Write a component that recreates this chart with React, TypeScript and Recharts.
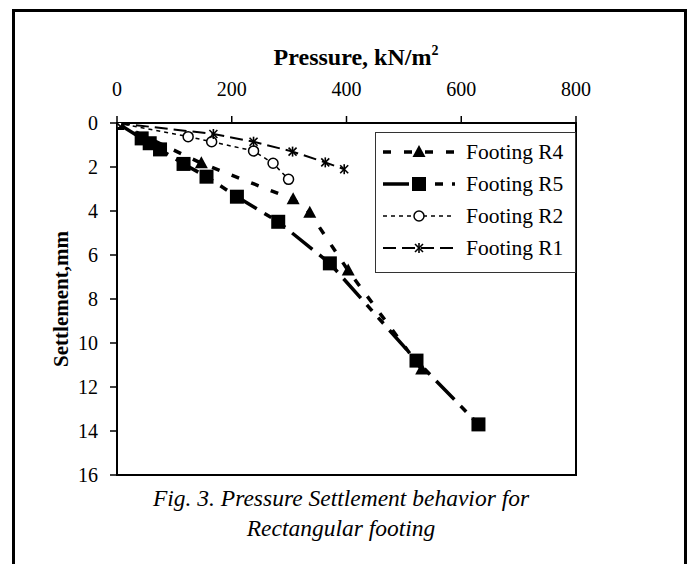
import React from 'react';
import { LineChart, Line, XAxis, YAxis, ReferenceArea, Legend } from 'recharts';

// Pressure (kN/m²) and settlement (mm) readings for each footing
const r4Pressure = [0, 147, 307, 336, 403, 531];
const r4Settlement = [0, 1.83, 3.47, 4.08, 6.71, 11.2];

const r5Pressure = [0, 43, 57, 75, 116, 156, 209, 281, 371, 522, 630];
const r5Settlement = [0, 0.7, 0.92, 1.2, 1.86, 2.44, 3.35, 4.49, 6.38, 10.8, 13.7];

const r2Pressure = [0, 124, 165, 238, 272, 299];
const r2Settlement = [0, 0.62, 0.85, 1.27, 1.83, 2.56];

const r1Pressure = [0, 168, 238, 306, 363, 396];
const r1Settlement = [0, 0.5, 0.85, 1.3, 1.79, 2.1];

const seriesNames = ['Footing R4', 'Footing R5', 'Footing R2', 'Footing R1'];

const pressureTicks = [0, 200, 400, 600, 800];
const settlementTicks = [0, 2, 4, 6, 8, 10, 12, 14, 16];

const zip = (p: number[], s: number[]) => p.map((v, i) => ({ p: v, s: s[i] }));

const r4Data = zip(r4Pressure, r4Settlement);
const r5Data = zip(r5Pressure, r5Settlement);
const r2Data = zip(r2Pressure, r2Settlement);
const r1Data = zip(r1Pressure, r1Settlement);

const FONT = "'Liberation Serif', 'Times New Roman', serif";

type MarkerKind = 'triangle' | 'square' | 'circle' | 'star';

const Marker = ({ kind, cx, cy }: { kind: MarkerKind; cx: number; cy: number }) => {
  if (kind === 'triangle') {
    return <polygon points={`${cx},${cy - 7} ${cx + 6.5},${cy + 5} ${cx - 6.5},${cy + 5}`} fill="#000" />;
  }
  if (kind === 'square') {
    return <rect x={cx - 7} y={cy - 7} width={14} height={14} fill="#000" />;
  }
  if (kind === 'circle') {
    return <circle cx={cx} cy={cy} r={5} fill="#fff" stroke="#000" strokeWidth={1.5} />;
  }
  return (
    <g stroke="#000" strokeWidth={1.6}>
      <line x1={cx - 4} y1={cy - 4} x2={cx + 4} y2={cy + 4} />
      <line x1={cx - 4} y1={cy + 4} x2={cx + 4} y2={cy - 4} />
      <line x1={cx} y1={cy - 5} x2={cx} y2={cy + 5} />
    </g>
  );
};

const makeDot = (kind: MarkerKind) => (props: any) => {
  const { cx, cy, index } = props;
  if (cx == null || cy == null) return <g key={`${kind}-${index}`} />;
  return (
    <g key={`${kind}-${index}`}>
      <Marker kind={kind} cx={cx} cy={cy} />
    </g>
  );
};

const styles = [
  { kind: 'triangle' as MarkerKind, width: 3.5, dash: '8 13' },
  { kind: 'square' as MarkerKind, width: 3.5, dash: '26 9 8 9 8 9' },
  { kind: 'circle' as MarkerKind, width: 1.5, dash: '4 4' },
  { kind: 'star' as MarkerKind, width: 2, dash: '13 6' },
];

const LegendBox = () => (
  <div
    style={{
      width: 201,
      height: 141,
      boxSizing: 'border-box',
      border: '1.5px solid #333',
      background: '#fff',
    }}
  >
    <svg width={198} height={138} style={{ display: 'block' }}>
      {seriesNames.map((name, i) => {
        const y = 19 + i * 32;
        const st = styles[i];
        return (
          <g key={name}>
            <line x1={7} y1={y} x2={79} y2={y} stroke="#000" strokeWidth={st.width} strokeDasharray={st.dash} />
            <Marker kind={st.kind} cx={43} cy={y} />
            <text x={90} y={y + 7} fontFamily={FONT} fontSize={21.5} fill="#000">
              {name}
            </text>
          </g>
        );
      })}
    </svg>
  </div>
);

const XTitle = () => (
  <text x={356} y={65} textAnchor="middle" fontFamily={FONT} fontSize={24} fontWeight="bold" fill="#000">
    Pressure, kN/m
    <tspan dy={-10} fontSize={14}>2</tspan>
  </text>
);

const YTitle = () => (
  <text
    x={0}
    y={0}
    transform="translate(68, 299) rotate(-90)"
    textAnchor="middle"
    fontFamily={FONT}
    fontSize={21}
    fontWeight="bold"
    fill="#000"
  >
    Settlement,mm
  </text>
);

export default function App() {
  return (
    <div style={{ position: 'absolute', left: 0, top: 0, width: 690, height: 564, overflow: 'hidden', background: '#fff' }}>
      <div
        style={{
          position: 'absolute',
          left: 12,
          top: 9,
          width: 675,
          height: 620,
          boxSizing: 'border-box',
          border: '3px solid #000',
        }}
      />
      <div style={{ position: 'absolute', left: 0, top: 0 }}>
        <LineChart width={690} height={564} margin={{ top: 83, left: 77, right: 114, bottom: 89 }}>
          <XAxis
            xAxisId={0}
            type="number"
            dataKey="p"
            orientation="top"
            height={40}
            domain={[0, 800]}
            ticks={pressureTicks}
            tickSize={7}
            tickMargin={20}
            axisLine={{ stroke: '#000', strokeWidth: 2 }}
            tickLine={{ stroke: '#000', strokeWidth: 1.5 }}
            tick={{ fill: '#000', fontSize: 20, fontFamily: FONT }}
            label={{ content: () => <XTitle /> }}
            allowDataOverflow
          />
          <YAxis
            yAxisId={0}
            type="number"
            dataKey="s"
            width={40}
            reversed
            domain={[0, 16]}
            ticks={settlementTicks}
            tickSize={7}
            tickMargin={12}
            axisLine={{ stroke: '#000', strokeWidth: 2 }}
            tickLine={{ stroke: '#000', strokeWidth: 1.5 }}
            tick={{ fill: '#000', fontSize: 20, fontFamily: FONT }}
            label={{ content: () => <YTitle /> }}
            allowDataOverflow
          />
          <ReferenceArea x1={0} x2={800} y1={0} y2={16} fill="none" stroke="#000" strokeWidth={2} ifOverflow="visible" />
          <Line
            data={r4Data}
            dataKey="s"
            name={seriesNames[0]}
            type="linear"
            stroke="#000"
            strokeWidth={styles[0].width}
            strokeDasharray={styles[0].dash}
            dot={makeDot('triangle')}
            isAnimationActive={false}
          />
          <Line
            data={r5Data}
            dataKey="s"
            name={seriesNames[1]}
            type="linear"
            stroke="#000"
            strokeWidth={styles[1].width}
            strokeDasharray={styles[1].dash}
            dot={makeDot('square')}
            isAnimationActive={false}
          />
          <Line
            data={r2Data}
            dataKey="s"
            name={seriesNames[2]}
            type="linear"
            stroke="#000"
            strokeWidth={styles[2].width}
            strokeDasharray={styles[2].dash}
            dot={makeDot('circle')}
            isAnimationActive={false}
          />
          <Line
            data={r1Data}
            dataKey="s"
            name={seriesNames[3]}
            type="linear"
            stroke="#000"
            strokeWidth={styles[3].width}
            strokeDasharray={styles[3].dash}
            dot={makeDot('star')}
            isAnimationActive={false}
          />
          <Legend
            layout="vertical"
            align="center"
            verticalAlign="middle"
            content={() => <LegendBox />}
            wrapperStyle={{ position: 'absolute', left: 375, top: 132, width: 201, height: 141 }}
          />
        </LineChart>
      </div>
      <div
        style={{
          position: 'absolute',
          left: 0,
          top: 483,
          width: 682,
          textAlign: 'center',
          fontFamily: FONT,
          fontStyle: 'italic',
          fontSize: 23.5,
          lineHeight: '30px',
          color: '#000',
        }}
      >
        Fig. 3. Pressure Settlement behavior for
        <br />
        Rectangular footing
      </div>
    </div>
  );
}
